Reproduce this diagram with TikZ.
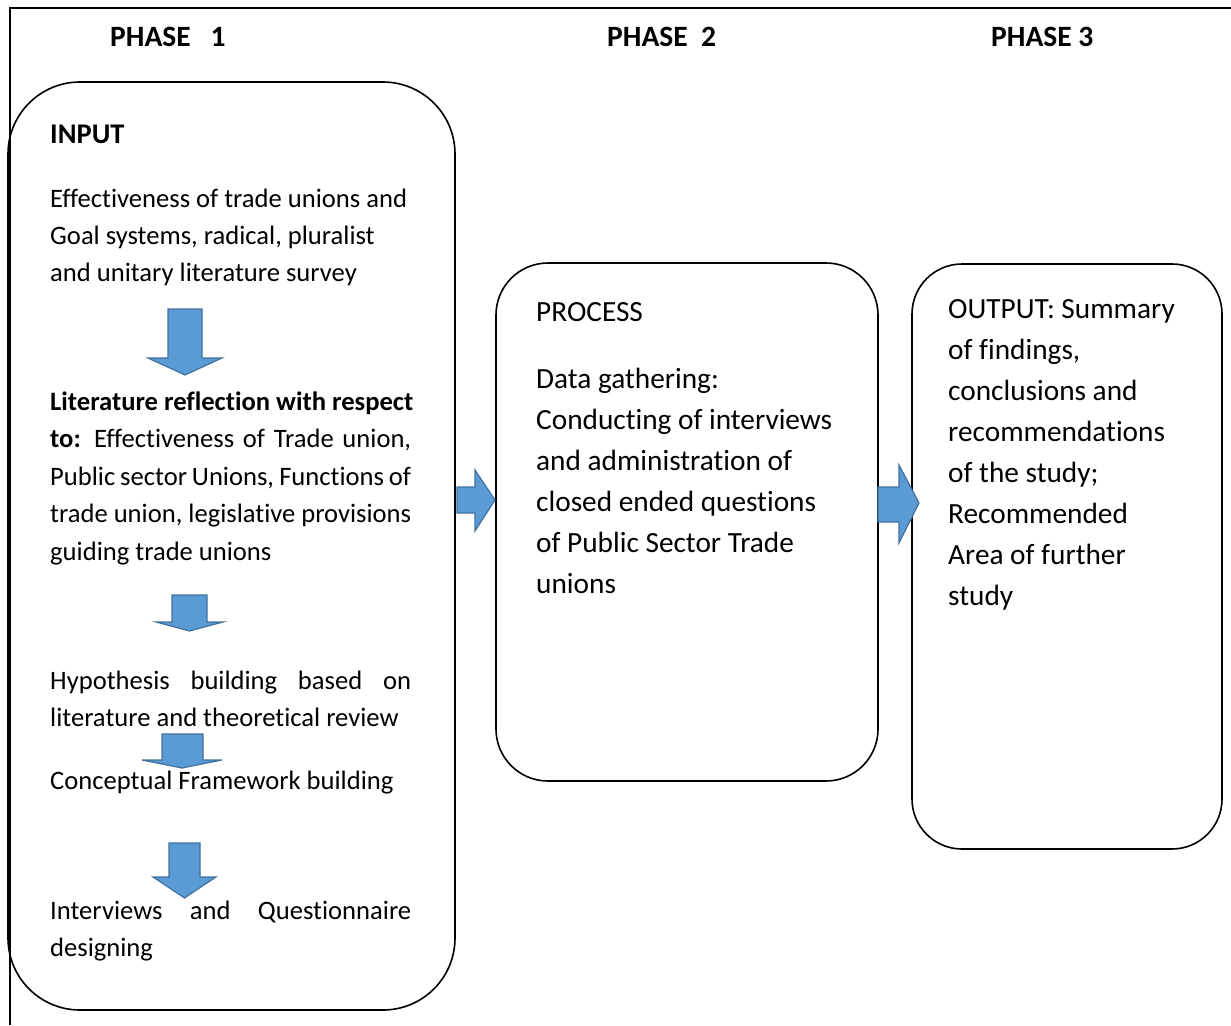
\documentclass[tikz,border=0pt]{standalone}
\usepackage{fontspec}
\setmainfont{Carlito}[Ligatures={NoCommon,NoRequired,NoContextual}]
\definecolor{arrowfill}{HTML}{5B9BD5}
\definecolor{arrowline}{HTML}{41719C}
\begin{document}
\begin{tikzpicture}[x=1pt,y=-1pt,
  phasebox/.style={draw=black,line width=1.6pt,inner sep=0pt},
  txt/.style={anchor=base west,inner sep=0pt,font=\fontsize{26.6}{37}\selectfont},
  bigtxt/.style={anchor=base west,inner sep=0pt,font=\fontsize{29.3}{41}\selectfont},
  head/.style={anchor=base west,inner sep=0pt,font=\fontsize{29.5}{41}\selectfont\bfseries},
  blockarrow/.style={fill=arrowfill,draw=arrowline,line width=1.2pt,line join=miter}]
\useasboundingbox (0,0) rectangle (1231,1025);
% page frame (top and left rules)
\draw[line width=1.6pt] (10,1025) -- (10,8) -- (1231,8);

% phase headings
\node[head] (ph1) at (110,47) {PHASE\ \ \ 1};
\node[head] (ph2) at (607,47) {PHASE\ \ 2};
\node[head] (ph3) at (991,47) {PHASE 3};

% the three rounded boxes
\draw[phasebox,rounded corners=72pt] (8,82) rectangle (455,1010);
\coordinate (inbox) at (231.5,546);
\draw[phasebox,rounded corners=52pt] (496,263) rectangle (878,781);
\coordinate (procbox) at (687,522);
\draw[phasebox,rounded corners=50pt] (912,264) rectangle (1222,849);
\coordinate (outbox) at (1067,556.5);

% INPUT column
\node[txt,font=\fontsize{28.5}{37}\selectfont\bfseries] (inp) at (50,143) {INPUT};
\node[txt] (i1) at (50,207) {Effectiveness of trade unions and};
\node[txt] (i2) at (50,244) {Goal systems, radical, pluralist};
\node[txt] (i3) at (50,281) {and unitary literature survey};

\node[txt] (l1) at (50,410) {\textbf{Literature reflection with respect}};
\node[txt] (l2) at (50,447.5) {\makebox[361pt][s]{\textbf{to:} Effectiveness of Trade union,}};
\node[txt] (l3) at (50,485) {\makebox[361pt][s]{Public sector Unions, Functions of}};
\node[txt] (l4) at (50,522.5) {\makebox[361pt][s]{trade union, legislative provisions}};
\node[txt] (l5) at (50,560) {guiding trade unions};

\node[txt] (h1) at (50,689) {\makebox[361pt][s]{Hypothesis building based on}};
\node[txt] (h2) at (50,726) {literature and theoretical review};

\node[txt] (c1) at (50,789) {Conceptual Framework building};

\node[txt] (q1) at (50,919) {\makebox[361pt][s]{Interviews and Questionnaire}};
\node[txt] (q2) at (50,956) {designing};

% PROCESS column
\node[bigtxt] (p0) at (536,321) {PROCESS};
\node[bigtxt] (p1) at (536,388) {Data gathering:};
\node[bigtxt] (p2) at (536,429) {Conducting of interviews};
\node[bigtxt] (p3) at (536,470) {and administration of};
\node[bigtxt] (p4) at (536,511) {closed ended questions};
\node[bigtxt] (p5) at (536,552) {of Public Sector Trade};
\node[bigtxt] (p6) at (536,593) {unions};

% OUTPUT column
\node[bigtxt] (o1) at (948,318) {OUTPUT: Summary};
\node[bigtxt] (o2) at (948,359) {of findings,};
\node[bigtxt] (o3) at (948,400) {conclusions and};
\node[bigtxt] (o4) at (948,441) {recommendations};
\node[bigtxt] (o5) at (948,482) {of the study;};
\node[bigtxt] (o6) at (948,523) {Recommended};
\node[bigtxt] (o7) at (948,564) {Area of further};
\node[bigtxt] (o8) at (948,605) {study};

% downward block arrows inside the INPUT box
\draw[blockarrow] (168,309) -- (202,309) -- (202,358) -- (222,358) -- (185,375) -- (148,358) -- (168,358) -- cycle;
\draw[blockarrow] (172,595) -- (207,595) -- (207,622) -- (223,622) -- (189.5,631) -- (156,622) -- (172,622) -- cycle;
\draw[blockarrow] (162,734) -- (203,734) -- (203,760) -- (222,760) -- (182,768) -- (142,760) -- (162,760) -- cycle;
\draw[blockarrow] (169,843) -- (200,843) -- (200,877) -- (216,877) -- (184.5,898) -- (153,877) -- (169,877) -- cycle;

% rightward block arrows between the phases
\draw[blockarrow] (457,487) -- (475,487) -- (475,470) -- (495,500) -- (475,531) -- (475,513) -- (457,513) -- cycle;
\draw[blockarrow] (878,487) -- (899,487) -- (899,465) -- (919,503) -- (899,543) -- (899,522) -- (878,522) -- cycle;
\end{tikzpicture}
\end{document}
